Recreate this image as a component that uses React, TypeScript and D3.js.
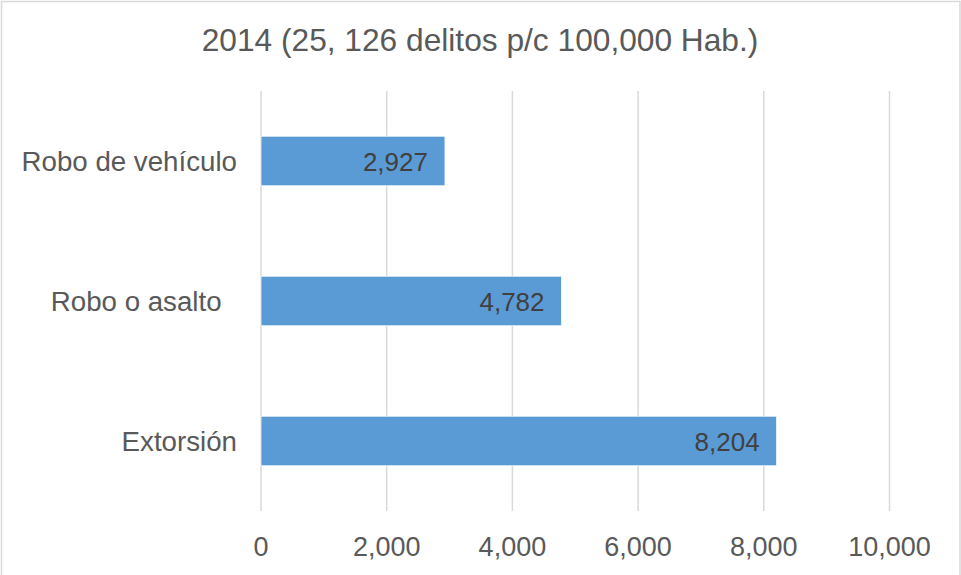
import React from "react";
import * as d3 from "d3";

const title = "2014 (25, 126 delitos p/c 100,000 Hab.)";
const categories = ["Robo de vehículo", "Robo o asalto  ", "Extorsión"];
const values = [2927, 4782, 8204];
const ticks = [0, 2000, 4000, 6000, 8000, 10000];

const W = 961;
const H = 575;

export default function App() {
  const x = d3.scaleLinear().domain([0, 10000]).range([261, 889.5]);
  const y = d3
    .scaleBand<string>()
    .domain(categories)
    .range([91, 511])
    .paddingInner(0.646)
    .paddingOuter(0.323);
  const fmt = d3.format(",");
  const font = "'Liberation Sans', Arial, sans-serif";
  return (
    <svg
      width={W}
      height={H}
      style={{ position: "absolute", left: 0, top: 0, background: "#fff" }}
      fontFamily={font}
    >
      <rect x={1.5} y={1.5} width={958.5} height={590} fill="#fff" stroke="#d9d9d9" strokeWidth={1.5} />
      <text x={480} y={50.5} textAnchor="middle" fontSize={31.7} fill="#595959">
        {title}
      </text>
      {ticks.map((t) => (
        <line key={t} x1={x(t)} x2={x(t)} y1={91} y2={511} stroke="#d9d9d9" strokeWidth={1.5} />
      ))}
      {ticks.map((t) => (
        <text key={"l" + t} x={x(t)} y={555.5} textAnchor="middle" fontSize={27} fill="#595959">
          {fmt(t)}
        </text>
      ))}
      {categories.map((c, i) => {
        const y0 = y(c)!;
        const bw = y.bandwidth();
        return (
          <g key={c}>
            <rect x={x(0)} y={y0} width={x(values[i]) - x(0)} height={bw} fill="#5b9bd5" stroke="#fff" strokeWidth={0.75} />
            <text x={x(values[i]) - 17} y={y0 + bw / 2 + 9.5} textAnchor="end" fontSize={26} fill="#404040">
              {fmt(values[i])}
            </text>
            <text x={237} y={y0 + bw / 2 + 9.5} textAnchor="end" fontSize={27.7} fill="#595959" style={{ whiteSpace: "pre" }}>
              {c}
            </text>
          </g>
        );
      })}
    </svg>
  );
}
